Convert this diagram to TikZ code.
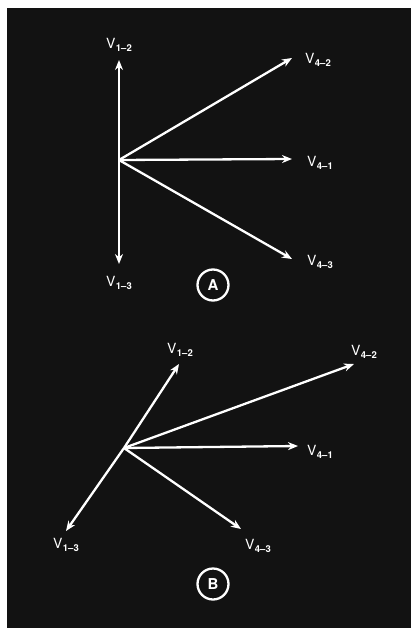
\documentclass[tikz,border=0pt]{standalone}
\usepackage{fontspec}
\setmainfont{TeX Gyre Heros}
\usetikzlibrary{arrows.meta}
\newcommand{\vlab}[1]{V\kern0.4pt\raisebox{-2.8pt}{\bfseries\fontsize{9.5}{9.5}\selectfont #1}}
\tikzset{
  vec/.style={->,line width=2.3pt,white},
  lab/.style={text=white,font=\fontsize{14}{14}\selectfont,inner sep=0pt},
  tag/.style={circle,draw=white,line width=2.3pt,text=white,minimum size=31pt,inner sep=0pt,font=\bfseries\fontsize{15}{15}\selectfont}
}
\begin{document}
\begin{tikzpicture}[x=1pt,y=-1pt,>={Stealth[length=10pt,width=8pt]}]
\useasboundingbox (0,0) rectangle (413,628);
\fill[white] (0,0) rectangle (413,628);
\fill[black!93] (7,8) rectangle (411,628);
% panel A
\coordinate (oA) at (119,160);
\coordinate (a12) at (119,60);
\coordinate (a13) at (119,264);
\coordinate (a42) at (292,58);
\coordinate (a41) at (292,159);
\coordinate (a43) at (292,259);
\draw[vec] (oA) -- (a12);
\draw[vec] (oA) -- (a13);
\draw[vec] (oA) -- (a42);
\draw[vec] (oA) -- (a41);
\draw[vec] (oA) -- (a43);
\node[lab] (la12) at (119,45) {\vlab{1--2}};
\node[lab] (la13) at (119,283) {\vlab{1--3}};
\node[lab] (la42) at (318,60) {\vlab{4--2}};
\node[lab] (la41) at (320,163) {\vlab{4--1}};
\node[lab] (la43) at (320,262) {\vlab{4--3}};
\node[tag] (tA) at (213,285) {A};
% panel B
\coordinate (oB) at (124,448);
\coordinate (b12) at (179,364);
\coordinate (b13) at (66,531);
\coordinate (b42) at (354,364);
\coordinate (b41) at (298,446);
\coordinate (b43) at (241,529);
\draw[vec] (oB) -- (b12);
\draw[vec] (oB) -- (b13);
\draw[vec] (oB) -- (b42);
\draw[vec] (oB) -- (b41);
\draw[vec] (oB) -- (b43);
\node[lab] (lb12) at (180,350) {\vlab{1--2}};
\node[lab] (lb13) at (66,545) {\vlab{1--3}};
\node[lab] (lb42) at (364,352) {\vlab{4--2}};
\node[lab] (lb41) at (320,452) {\vlab{4--1}};
\node[lab] (lb43) at (258,546) {\vlab{4--3}};
\node[tag] (tB) at (213,584) {B};
\end{tikzpicture}
\end{document}
